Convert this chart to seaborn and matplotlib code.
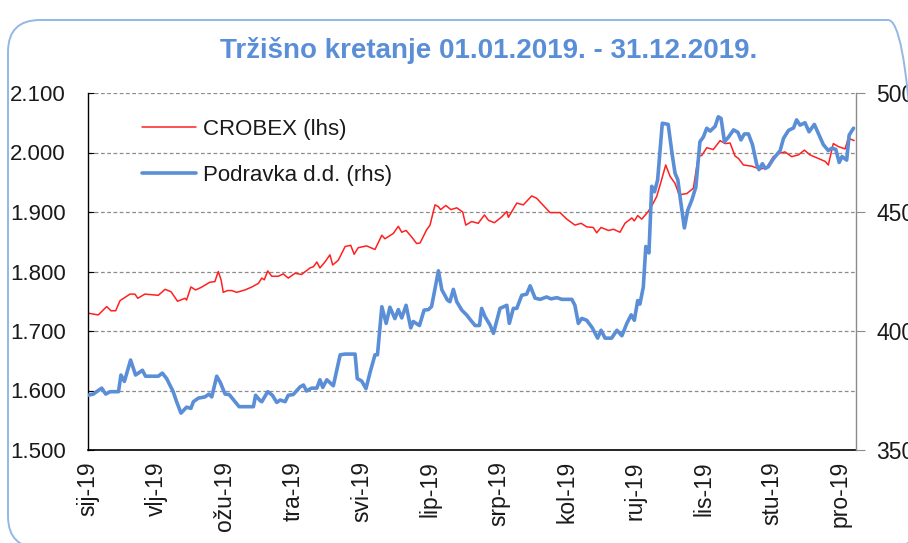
import matplotlib
matplotlib.use("Agg")

import seaborn as sns
import matplotlib.pyplot as plt
from matplotlib.patches import FancyBboxPatch

TITLE = "Tržišno kretanje 01.01.2019. - 31.12.2019."
BLUE = "#5A8ED6"
RED = "#FF2020"

# trading-day index of each point and the value
crobex_day = [
    0, 3.3, 6.0, 7.4, 8.9, 10.3, 13.5, 15.1, 16.0, 18.3, 20.5, 22.6, 24.8, 26.7,
    28.8, 31.2, 31.7, 33.1, 34.6, 36.3, 39.2, 40.8, 41.9, 42.8, 43.5, 44.9, 46.2,
    47.8, 50.5, 52.7, 54.8, 55.9, 56.7, 57.8, 59.1, 61.2, 62.8, 64.4, 66.6, 68.7,
    71.4, 72.5, 73.6, 74.6, 76.2, 77.8, 78.7, 80.5, 82.7, 84.5, 85.6, 86.9, 89.6,
    92.3, 94.5, 95.5, 98.2, 99.8, 100.9, 102.3, 104.1, 105.7, 106.8, 108.9, 110.0,
    111.6, 112.7, 113.4, 115.1, 116.7, 118.6, 120.5, 121.5, 123.4, 125.5, 127.5,
    128.8, 130.7, 133.1, 134.7, 135.2, 137.9, 140.0, 142.7, 144.3, 145.9, 148.6,
    151.8, 154.0, 156.6, 158.6, 160.4, 162.5, 163.6, 165.0, 167.4, 169.0, 171.1,
    172.7, 174.9, 175.7, 176.8, 178.1, 180.2, 181.8, 182.9, 184.3, 185.8, 187.2,
    188.8, 190.1, 192.6, 194.7, 196.3, 197.4, 199.0, 201.1, 203.3, 204.9, 206.5,
    208.1, 209.2, 210.8, 213.5, 216.1, 218.3, 220.4, 222.6, 224.2, 226.3, 228.5,
    230.4, 232.2, 234.9, 237.1, 238.1, 239.7, 241.3, 243.5, 244.5, 246.4,
]
crobex_value = [
    1.730, 1.727, 1.741, 1.734, 1.734, 1.751, 1.762, 1.762, 1.755, 1.762, 1.761,
    1.760, 1.770, 1.766, 1.750, 1.755, 1.752, 1.774, 1.769, 1.773, 1.782, 1.783,
    1.800, 1.786, 1.765, 1.768, 1.768, 1.765, 1.769, 1.774, 1.780, 1.789, 1.786,
    1.801, 1.792, 1.792, 1.796, 1.789, 1.797, 1.795, 1.806, 1.808, 1.816, 1.806,
    1.816, 1.828, 1.811, 1.819, 1.842, 1.844, 1.829, 1.840, 1.843, 1.837, 1.861,
    1.855, 1.864, 1.876, 1.866, 1.869, 1.858, 1.847, 1.848, 1.870, 1.878, 1.912,
    1.909, 1.904, 1.911, 1.904, 1.907, 1.900, 1.878, 1.884, 1.881, 1.895, 1.886,
    1.882, 1.892, 1.901, 1.891, 1.915, 1.912, 1.927, 1.923, 1.914, 1.899, 1.899,
    1.888, 1.878, 1.881, 1.875, 1.874, 1.865, 1.874, 1.869, 1.871, 1.866, 1.881,
    1.890, 1.885, 1.894, 1.888, 1.901, 1.915, 1.926, 1.951, 1.979, 1.960, 1.948,
    1.929, 1.931, 1.940, 1.994, 1.995, 2.008, 2.005, 2.020, 2.015, 2.016, 1.994,
    1.990, 1.979, 1.977, 1.972, 1.975, 1.993, 1.999, 2.001, 1.993, 1.996, 2.004,
    1.996, 1.990, 1.985, 1.979, 2.015, 2.010, 2.006, 2.024, 2.020,
]

podravka_day = [
    0, 1.7, 4.4, 5.7, 7.1, 9.8, 10.6, 11.7, 13.7, 15.3, 17.5, 18.5, 22.6, 23.9,
    25.3, 27.4, 28.5, 29.9, 31.7, 33.1, 33.9, 35.5, 37.6, 38.9, 39.8, 41.4, 42.5,
    44.1, 45.4, 47.3, 48.6, 53.2, 53.9, 55.3, 55.9, 57.8, 59.3, 60.7, 61.8, 63.4,
    64.4, 66.0, 68.2, 69.3, 70.3, 71.9, 73.6, 74.6, 75.5, 76.8, 78.9, 81.1, 82.7,
    85.9, 86.6, 88.0, 89.4, 90.7, 92.3, 93.1, 94.5, 95.9, 97.1, 98.7, 99.8, 100.9,
    102.3, 103.8, 104.6, 106.6, 108.1, 109.5, 110.5, 112.7, 113.8, 115.6, 116.4,
    117.5, 118.6, 120.2, 121.8, 123.1, 124.5, 125.9, 126.6, 127.7, 129.3, 130.4,
    132.5, 134.7, 135.5, 136.8, 137.9, 139.5, 141.1, 142.2, 143.8, 145.4, 147.5,
    148.9, 150.8, 152.4, 155.6, 156.6, 157.7, 158.8, 160.4, 162.2, 163.9, 165.0,
    166.3, 168.4, 170.1, 171.7, 173.3, 174.7, 175.7, 176.8, 177.5, 178.6, 179.4,
    180.4, 181.3, 182.2, 183.2, 184.7, 186.6, 187.9, 188.8, 189.7, 190.4, 191.8,
    192.9, 194.2, 195.5, 196.8, 197.9, 199.0, 200.1, 201.7, 202.7, 203.6, 204.7,
    206.0, 207.6, 209.0, 210.0, 211.1, 212.4, 213.7, 215.1, 215.8, 216.9, 217.8,
    218.8, 220.4, 222.6, 223.7, 225.3, 226.9, 227.9, 229.0, 230.6, 231.9, 233.6,
    234.9, 236.5, 238.1, 239.2, 240.5, 241.6, 242.5, 244.0, 244.8, 246.2,
]
podravka_value = [
    373.0, 373.5, 376.0, 373.5, 374.5, 374.5, 381.5, 378.8, 387.8, 381.5, 383.5,
    381.0, 381.0, 382.3, 380.0, 374.5, 370.3, 365.5, 368.0, 367.5, 370.3, 371.8,
    372.3, 373.5, 372.3, 381.0, 378.5, 373.5, 373.3, 370.3, 368.2, 368.2, 373.0,
    370.8, 370.3, 374.5, 373.0, 370.0, 371.0, 370.3, 373.0, 373.3, 376.5, 377.3,
    374.8, 376.0, 376.0, 379.5, 376.3, 379.5, 377.0, 390.0, 390.3, 390.3, 380.0,
    379.0, 375.8, 382.5, 390.0, 390.0, 410.2, 403.2, 410.0, 405.2, 409.0, 405.5,
    410.8, 401.3, 404.0, 402.3, 408.8, 409.0, 410.3, 425.3, 417.3, 413.0, 412.3,
    417.5, 412.3, 408.8, 406.7, 404.5, 402.3, 402.3, 409.5, 406.0, 402.5, 399.0,
    409.5, 410.8, 403.2, 409.5, 409.5, 415.0, 415.5, 419.0, 413.8, 413.3, 414.3,
    413.5, 414.0, 413.3, 413.3, 410.8, 403.2, 405.3, 404.5, 401.3, 397.0, 400.3,
    397.0, 397.0, 400.3, 398.0, 403.2, 406.8, 404.5, 412.8, 411.3, 418.5, 435.5,
    432.8, 460.8, 458.5, 463.5, 487.3, 486.8, 474.0, 466.3, 463.5, 456.5, 443.3,
    450.8, 455.0, 460.5, 479.5, 481.5, 485.2, 484.0, 486.0, 490.0, 489.3, 479.5,
    481.5, 484.5, 483.5, 480.3, 482.8, 482.8, 478.3, 469.8, 467.8, 470.3, 468.3,
    469.0, 472.3, 475.8, 481.0, 484.3, 485.3, 488.7, 486.5, 487.5, 483.7, 486.8,
    483.0, 478.3, 475.8, 476.8, 476.3, 470.8, 473.3, 471.8, 482.3, 485.2,
]

tick_day = [0, 22, 44, 66, 88, 110, 132, 154, 176, 198, 220, 242]
tick_label = ["sij-19", "vlj-19", "ožu-19", "tra-19", "svi-19", "lip-19",
              "srp-19", "kol-19", "ruj-19", "lis-19", "stu-19", "pro-19"]

left_ticks = [1.5, 1.6, 1.7, 1.8, 1.9, 2.0, 2.1]
right_ticks = [350, 400, 450, 500]


sns.set_theme(style="white")
plt.rcParams["font.family"] = ["Liberation Sans", "DejaVu Sans"]

fig = plt.figure(figsize=(9.08, 5.43), dpi=100)
ax = fig.add_axes([88 / 908, 93 / 543, 768 / 908, 357 / 543])
ax2 = ax.twinx()

sns.lineplot(x=crobex_day, y=crobex_value, ax=ax, color=RED, linewidth=1.1,
             label="CROBEX (lhs)")
sns.lineplot(x=podravka_day, y=podravka_value, ax=ax2, color=BLUE,
             linewidth=2.6, label="Podravka d.d. (rhs)")

ax.set_xlim(0, 247)
ax.set_ylim(1.5, 2.1)
ax2.set_ylim(350, 500)

ax.set_yticks(left_ticks, [f"{v:.3f}" for v in left_ticks])
ax2.set_yticks(right_ticks, [str(v) for v in right_ticks])
ax.set_xticks(tick_day, tick_label, rotation=90)

ax.yaxis.grid(True, color="#8c8c8c", linestyle=(0, (3, 2)), linewidth=0.9)
ax.set_axisbelow(True)

ax.tick_params(axis="y", left=True, direction="in", length=4, width=0.8,
               color="black", labelsize=16, pad=16, labelcolor="#1a1a1a")
ax.tick_params(axis="x", length=0, labelsize=16.5, pad=8, labelcolor="#1a1a1a")
ax2.tick_params(axis="y", right=True, length=6.5, width=0.8, color="#8c8c8c",
                labelsize=16.5, pad=8, labelcolor="#1a1a1a")

for a in (ax, ax2):
    a.spines["top"].set_visible(False)
ax.spines["left"].set_color("black")
ax.spines["bottom"].set_color("black")
ax.spines["left"].set_linewidth(1.0)
ax.spines["bottom"].set_linewidth(1.2)
ax.spines["right"].set_visible(False)
ax2.spines["left"].set_visible(False)
ax2.spines["bottom"].set_visible(False)
ax2.spines["right"].set_color("#8c8c8c")
ax2.spines["right"].set_linewidth(1.0)
ax.set_xlabel("")
ax.set_ylabel("")
ax2.set_ylabel("")

handles = ax.get_legend_handles_labels()[0] + ax2.get_legend_handles_labels()[0]
labels = ax.get_legend_handles_labels()[1] + ax2.get_legend_handles_labels()[1]
ax.get_legend().remove()
ax2.get_legend().remove()
ax2.legend(handles, labels, loc="upper left", bbox_to_anchor=(0.07, 0.927),
           frameon=False, fontsize=16, handlelength=2.45, handletextpad=0.3,
           labelspacing=1.1, borderpad=0, borderaxespad=0,
           labelcolor="#1a1a1a")

fig.text(489 / 908, 1 - 51 / 543, TITLE, ha="center", va="center",
         fontsize=20, fontweight="bold", color=BLUE)

# rounded frame around the whole chart, its right side runs off the picture
frame = FancyBboxPatch((0.08, -0.05), 9.12, 5.28,
                       boxstyle="round,pad=0,rounding_size=0.32",
                       transform=fig.dpi_scale_trans, facecolor="none",
                       edgecolor="#92B8E6", linewidth=1.4)
fig.patches.append(frame)

fig.savefig("out.png", dpi=100)
